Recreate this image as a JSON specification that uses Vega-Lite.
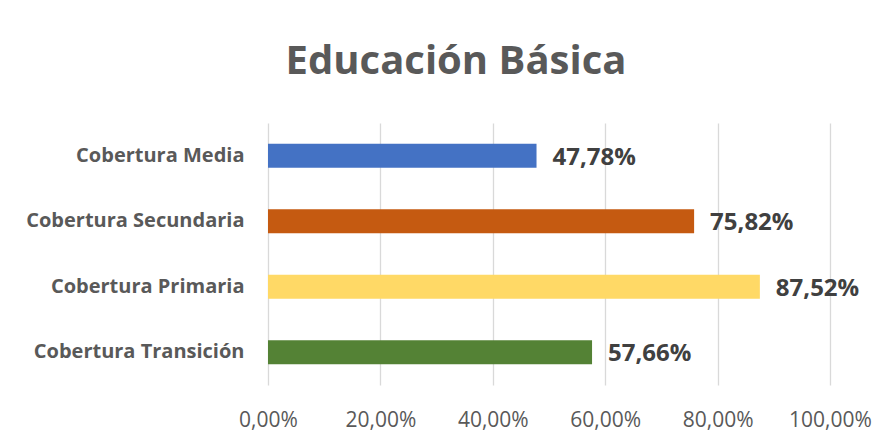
{
  "$schema": "https://vega.github.io/schema/vega-lite/v6.json",
  "autosize": {"type": "none"},
  "width": 562,
  "height": 262,
  "padding": {"left": 268, "top": 123, "right": 58, "bottom": 55},
  "background": "white",
  "config": {
    "locale": {"number": {"decimal": ",", "thousands": ".", "grouping": [3], "currency": ["", " €"]}},
    "view": {"stroke": null},
    "font": "Open Sans"
  },
  "title": {
    "text": "Educación Básica",
    "font": "Open Sans",
    "fontSize": 40,
    "fontWeight": "bold",
    "color": "#595959",
    "anchor": "middle",
    "frame": "group",
    "baseline": "alphabetic",
    "offset": 9,
    "dx": -93
  },
  "data": {
    "values": [
      {"categoria": "Cobertura Media", "valor": 0.4778},
      {"categoria": "Cobertura Secundaria", "valor": 0.7582},
      {"categoria": "Cobertura Primaria", "valor": 0.8752},
      {"categoria": "Cobertura Transición", "valor": 0.5766}
    ]
  },
  "encoding": {
    "y": {
      "field": "categoria",
      "type": "nominal",
      "sort": ["Cobertura Media", "Cobertura Secundaria", "Cobertura Primaria", "Cobertura Transición"],
      "scale": {"paddingInner": 0.63, "paddingOuter": 0.315},
      "axis": {
        "title": null,
        "domain": false,
        "ticks": false,
        "labelPadding": 24,
        "labelFont": "Open Sans",
        "labelFontSize": 20,
        "labelFontWeight": "bold",
        "labelColor": "#595959",
        "labelLimit": 300
      }
    },
    "x": {
      "field": "valor",
      "type": "quantitative",
      "scale": {"domain": [0, 1], "nice": false},
      "axis": {
        "title": null,
        "format": ".2%",
        "values": [0, 0.2, 0.4, 0.6, 0.8, 1],
        "domain": false,
        "ticks": false,
        "grid": true,
        "gridColor": "#d9d9d9",
        "gridWidth": 1.3,
        "labelPadding": 24,
        "labelFont": "Open Sans",
        "labelFontSize": 21,
        "labelColor": "#595959",
        "labelFlush": false
      }
    }
  },
  "layer": [
    {
      "mark": {"type": "bar"},
      "encoding": {
        "color": {
          "field": "categoria",
          "type": "nominal",
          "scale": {
            "domain": ["Cobertura Media", "Cobertura Secundaria", "Cobertura Primaria", "Cobertura Transición"],
            "range": ["#4472C4", "#C55A11", "#FFD966", "#548235"]
          },
          "legend": null
        }
      }
    },
    {
      "mark": {"type": "text", "align": "left", "baseline": "middle", "dx": 16, "dy": 2, "font": "Open Sans", "fontSize": 24, "fontWeight": "bold", "color": "#404040"},
      "encoding": {
        "text": {"field": "valor", "type": "quantitative", "format": ".2%"}
      }
    }
  ]
}
